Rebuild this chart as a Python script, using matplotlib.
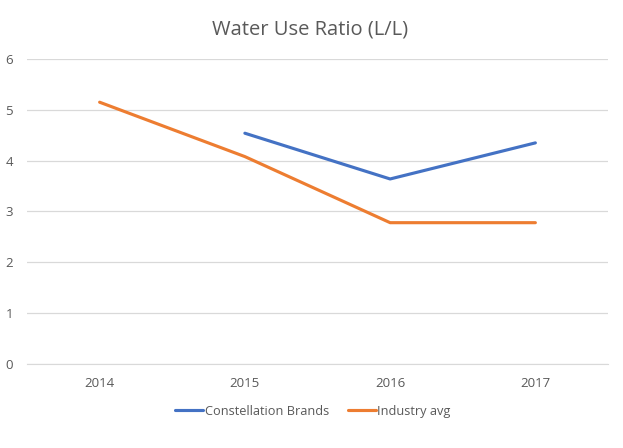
import matplotlib
matplotlib.use("Agg")
import matplotlib.pyplot as plt

years = ["2014", "2015", "2016", "2017"]
constellation = [None, 4.54, 3.64, 4.35]
industry = [5.15, 4.08, 2.78, 2.78]
yticks = [0, 1, 2, 3, 4, 5, 6]

plt.rcParams['font.family'] = ['Open Sans', 'DejaVu Sans']
grey = '#595959'

fig = plt.figure(figsize=(6.23, 4.48), dpi=100)
ax = fig.add_axes([27/623, 1-364/448, (608-27)/623, (364-59)/448])

x = list(range(len(years)))
cx = [i for i, v in zip(x, constellation) if v is not None]
cy = [v for v in constellation if v is not None]
ax.plot(cx, cy, color='#4472C4', lw=2.25, label='Constellation Brands', solid_capstyle='round')
ax.plot(x, industry, color='#ED7D31', lw=2.25, label='Industry avg', solid_capstyle='round')

ax.set_xlim(-0.5, 3.5)
ax.set_ylim(0, 6)
ax.set_yticks(yticks)
ax.set_xticks(x)
ax.set_xticklabels(years)
ax.grid(axis='y', color='#D9D9D9', lw=0.9)
ax.set_axisbelow(True)
for s in ['top', 'right', 'left']:
    ax.spines[s].set_visible(False)
ax.spines['bottom'].set_color('#D9D9D9')
ax.tick_params(axis='both', length=0, colors=grey, labelsize=9.5)
ax.tick_params(axis='y', pad=10)
ax.tick_params(axis='x', pad=9)

fig.text(310/623, 1-30/448, 'Water Use Ratio (L/L)', ha='center', va='center',
         fontsize=14.5, color=grey)

leg = fig.legend(loc='center', bbox_to_anchor=(313/623, 1-411/448), ncol=2,
                 frameon=False, fontsize=9.2, handlelength=2.2, handletextpad=0.1,
                 columnspacing=1.5)
for t in leg.get_texts():
    t.set_color(grey)

fig.savefig('out.png', dpi=100)
